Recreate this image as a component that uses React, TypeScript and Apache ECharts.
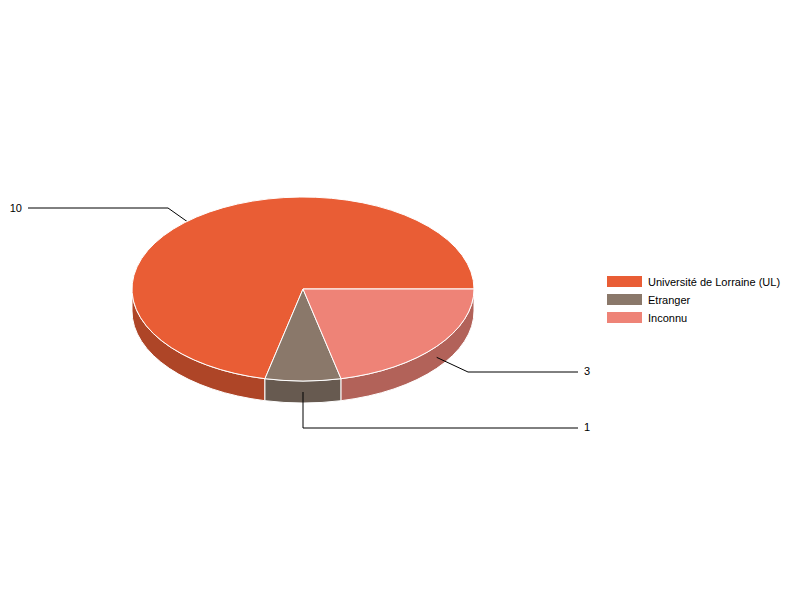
import React, { useEffect, useRef } from "react";
import * as echarts from "echarts";

const categories = ["Université de Lorraine (UL)", "Etranger", "Inconnu"];
const values = [10, 1, 3];
const topColors = ["#E95D35", "#8A786A", "#EE8377"];
const sideColors = ["#AE4527", "#675A50", "#B26259"];
// slices are laid out clockwise from 3 o'clock in this order
const drawOrder = [2, 1, 0];

const CX = 303;
const CY = 289;
const RX = 171;
const RY = 92;
const DEPTH = 22;
const FONT = "'Liberation Sans', Arial, sans-serif";

// leader knee [x, y], label x and y, label alignment, per category
const leaderKnees = [[168, 208], [303, 428], [468, 372]];
const labelX = [22, 584, 584];
const labelY = [208, 427, 371];
const labelAlign = ["right", "left", "left"];
const leaderEndX = [28, 578, 578];

const total = values.reduce((a, b) => a + b, 0);
const angles: Record<number, [number, number]> = {};
{
  let acc = 0;
  for (const i of drawOrder) {
    const start = (acc / total) * Math.PI * 2;
    acc += values[i];
    angles[i] = [start, (acc / total) * Math.PI * 2];
  }
}

const pt = (a: number, dy = 0) => [CX + RX * Math.cos(a), CY + RY * Math.sin(a) + dy];

function topPath(a0: number, a1: number) {
  const [x0, y0] = pt(a0);
  const [x1, y1] = pt(a1);
  const large = a1 - a0 > Math.PI ? 1 : 0;
  return `M${CX} ${CY}L${x0} ${y0}A${RX} ${RY} 0 ${large} 1 ${x1} ${y1}Z`;
}

function sidePath(a0: number, a1: number) {
  const e = Math.min(a1, Math.PI);
  const [x0, y0] = pt(a0);
  const [x1, y1] = pt(e);
  return `M${x0} ${y0}A${RX} ${RY} 0 0 1 ${x1} ${y1}L${x1} ${y1 + DEPTH}A${RX} ${RY} 0 0 0 ${x0} ${y0 + DEPTH}Z`;
}

function makeRenderItem(i: number) {
  return () => {
    const [a0, a1] = angles[i];
    const mid = (a0 + a1) / 2;
    const anchor = pt(mid, DEPTH / 2);
    const knee = leaderKnees[i];
    const children: any[] = [];
    if (a0 < Math.PI) {
      children.push({
        type: "path",
        z2: 1,
        shape: { pathData: sidePath(a0, a1) },
        style: { fill: sideColors[i], stroke: "#fff", lineWidth: 1 },
      });
    }
    children.push({
      type: "polyline",
      z2: 2,
      shape: { points: [anchor, knee, [leaderEndX[i], knee[1]]] },
      style: { fill: "none", stroke: "#000", lineWidth: 1 },
    });
    children.push({
      type: "path",
      z2: 3,
      shape: { pathData: topPath(a0, a1) },
      style: { fill: topColors[i], stroke: "#fff", lineWidth: 1 },
    });
    children.push({
      type: "text",
      z2: 4,
      x: labelX[i],
      y: labelY[i],
      style: {
        text: String(values[i]),
        fill: "#000",
        font: `11px ${FONT}`,
        align: labelAlign[i],
        verticalAlign: "middle",
      },
    });
    return { type: "group", children };
  };
}

export default function App() {
  const ref = useRef<HTMLDivElement>(null);
  useEffect(() => {
    const chart = echarts.init(ref.current!, null, { renderer: "svg" });
    chart.setOption({
      animation: false,
      backgroundColor: "#fff",
      legend: {
        orient: "vertical",
        left: 607,
        top: 276,
        padding: 0,
        itemWidth: 35,
        itemHeight: 11,
        itemGap: 7,
        icon: "rect",
        data: categories,
        selectedMode: false,
        textStyle: { color: "#000", fontSize: 11, fontFamily: FONT, padding: [0, 0, 0, 1] },
      },
      series: categories.map((name, i) => ({
        type: "custom",
        name,
        coordinateSystem: "none",
        silent: true,
        itemStyle: { color: topColors[i] },
        data: [[values[i]]],
        renderItem: makeRenderItem(i),
      })),
    });
    return () => chart.dispose();
  }, []);
  return (
    <div
      ref={ref}
      style={{ position: "fixed", left: 0, top: 0, width: 800, height: 600 }}
    />
  );
}
